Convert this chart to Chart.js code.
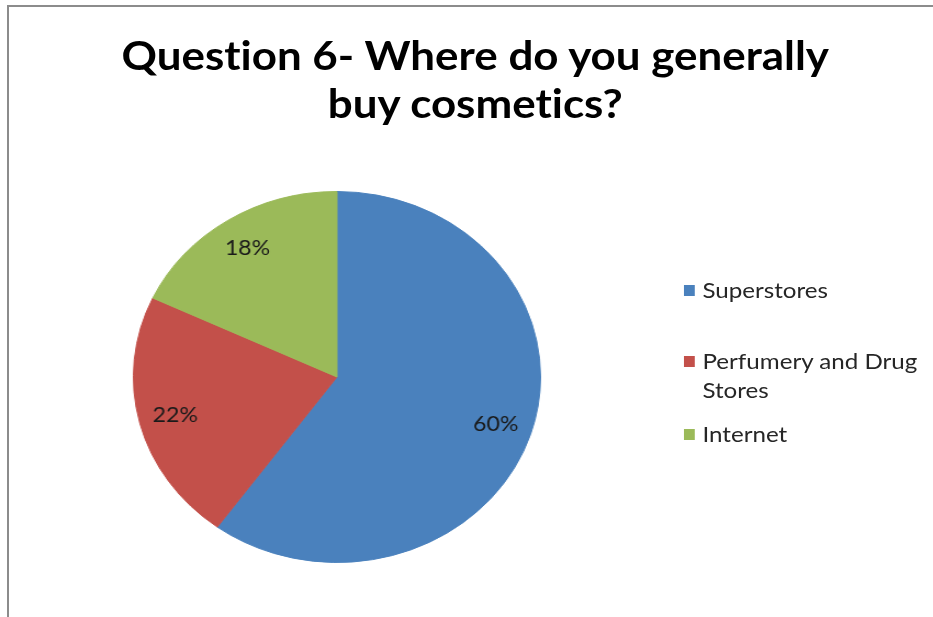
<!DOCTYPE html>
<html>
<head>
<meta charset="utf-8">
<title>Question 6</title>
<script src="https://cdn.jsdelivr.net/npm/chart.js@4/dist/chart.umd.min.js"></script>
<style>
  html, body { margin: 0; padding: 0; background: #fff; }
  body { width: 933px; height: 617px; overflow: hidden; position: relative; }
  #frame {
    position: absolute; left: 7px; top: 5px; right: 0; bottom: 0;
    border-top: 2px solid #8c8c8c; border-left: 2px solid #8c8c8c;
  }
  /* the whole chart is laid out narrow and widened afterwards */
  #stage {
    position: absolute; left: 0; top: 0; width: 850px; height: 617px;
    transform: scaleX(1.0976); transform-origin: 0 0;
  }
  #holder { position: absolute; left: 0; top: 0; width: 850px; height: 617px; }
  #title {
    position: absolute; left: 16px; top: 31px; width: 834px;
    text-align: center; font: 700 40px/48px Lato, sans-serif; color: #000;
    font-variant-ligatures: none;
  }
  #legend { position: absolute; left: 623px; top: 275px; width: 227px; }
  .item { display: flex; align-items: flex-start; font: 22px/29px Lato, sans-serif; color: #262626; }
  .item:nth-child(1) { margin-bottom: 42px; }
  .item:nth-child(2) { margin-bottom: 15px; }
  .swatch { flex: none; width: 10px; height: 11px; margin: 10px 7px 0 0; }
  .label { width: 206px; }
</style>
</head>
<body>
<div id="frame"></div>
<div id="stage">
  <div id="holder"><canvas id="pie"></canvas></div>
  <div id="title"></div>
  <div id="legend"></div>
</div>
<script>
const titleLines = ['Question 6- Where do you generally', 'buy cosmetics?']
const categories = ['Superstores', 'Perfumery and Drug Stores', 'Internet']
const shares = [60, 22, 18]
const colors = ['#4a81bd', '#c3504a', '#9bba59']

document.getElementById('title').innerHTML = titleLines.join('<br>')

const legend = document.getElementById('legend')
categories.forEach((name, i) => {
  const row = document.createElement('div')
  row.className = 'item'
  row.innerHTML = `<span class="swatch" style="background:${colors[i]}"></span><span class="label">${name}</span>`
  legend.appendChild(row)
})

// percentage inside each slice, a bit past the middle of the radius
const sliceLabels = {
  id: 'sliceLabels',
  afterDatasetsDraw(chart) {
    const ctx = chart.ctx
    const arcs = chart.getDatasetMeta(0).data
    ctx.save()
    ctx.font = '21px Lato, sans-serif'
    ctx.fillStyle = '#1a1a1a'
    ctx.textAlign = 'center'
    ctx.textBaseline = 'middle'
    arcs.forEach((arc, i) => {
      const p = arc.getProps(['x', 'y', 'startAngle', 'endAngle', 'outerRadius'], true)
      const mid = (p.startAngle + p.endAngle) / 2
      const r = p.outerRadius * 0.82
      ctx.fillText(shares[i] + '%', p.x + Math.cos(mid) * r, p.y + Math.sin(mid) * r)
    })
    ctx.restore()
  }
}

new Chart(document.getElementById('pie'), {
  type: 'pie',
  data: {
    labels: categories,
    datasets: [{ data: shares, backgroundColor: colors, borderColor: colors, borderWidth: 1 }],
  },
  options: {
    responsive: true,
    maintainAspectRatio: false,
    animation: false,
    events: [],
    layout: { padding: { left: 121, right: 357, top: 191, bottom: 54 } },
    plugins: { legend: { display: false }, title: { display: false }, tooltip: { enabled: false } },
  },
  plugins: [sliceLabels],
})
</script>
</body>
</html>
